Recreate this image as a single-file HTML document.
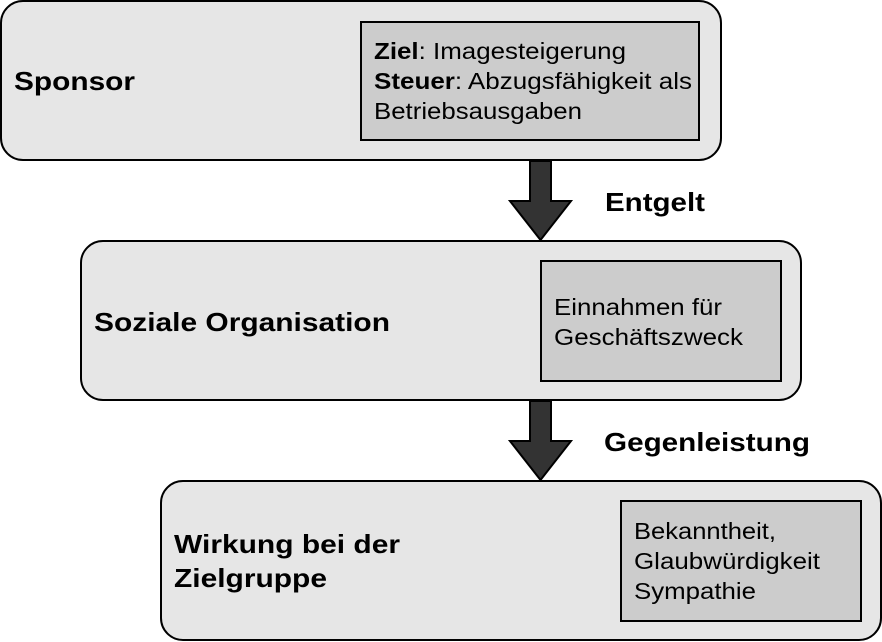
<!DOCTYPE html>
<html><head><meta charset="utf-8"><style>
html,body{margin:0;padding:0;background:#fff;}
svg{display:block;font-family:"Liberation Sans",Arial,sans-serif;}
</style></head><body>
<svg width="882" height="642" viewBox="0 0 882 642" xmlns="http://www.w3.org/2000/svg">
<g stroke="#000" stroke-width="2">
<rect x="1" y="1" width="720" height="159" rx="22" fill="#e6e6e6"/>
<rect x="361" y="22" width="338" height="118" fill="#cccccc"/>
<rect x="81" y="241" width="720" height="159" rx="22" fill="#e6e6e6"/>
<rect x="541" y="261" width="240" height="120" fill="#cccccc"/>
<rect x="161" y="481" width="720" height="159" rx="22" fill="#e6e6e6"/>
<rect x="621" y="501" width="240" height="120" fill="#cccccc"/>
<polygon points="530,161 551,161 551,201 571,201 540.5,240 510,201 530,201" fill="#333"/>
<polygon points="530,401 551,401 551,441 571,441 540.5,480 510,441 530,441" fill="#333"/>
</g>
<g font-size="26" font-weight="bold" fill="#000">
<text x="14" y="90" textLength="121" lengthAdjust="spacingAndGlyphs">Sponsor</text>
<text x="94" y="331" textLength="296" lengthAdjust="spacingAndGlyphs">Soziale Organisation</text>
<text x="174" y="553" textLength="226" lengthAdjust="spacingAndGlyphs">Wirkung bei der</text>
<text x="174" y="587" textLength="153" lengthAdjust="spacingAndGlyphs">Zielgruppe</text>
<text x="605" y="211" textLength="100" lengthAdjust="spacingAndGlyphs">Entgelt</text>
<text x="604" y="451" textLength="206" lengthAdjust="spacingAndGlyphs">Gegenleistung</text>
</g>
<g font-size="23.5" fill="#000">
<text x="374" y="59" textLength="252" lengthAdjust="spacingAndGlyphs"><tspan font-weight="bold">Ziel</tspan>: Imagesteigerung</text>
<text x="374" y="89" textLength="318" lengthAdjust="spacingAndGlyphs"><tspan font-weight="bold">Steuer</tspan>: Abzugsfähigkeit als</text>
<text x="374" y="119" textLength="208" lengthAdjust="spacingAndGlyphs">Betriebsausgaben</text>
<text x="554" y="315" textLength="168" lengthAdjust="spacingAndGlyphs">Einnahmen für</text>
<text x="554" y="345" textLength="189" lengthAdjust="spacingAndGlyphs">Geschäftszweck</text>
<text x="634" y="539" textLength="142" lengthAdjust="spacingAndGlyphs">Bekanntheit,</text>
<text x="634" y="569" textLength="186" lengthAdjust="spacingAndGlyphs">Glaubwürdigkeit</text>
<text x="634" y="599" textLength="122" lengthAdjust="spacingAndGlyphs">Sympathie</text>
</g>
</svg>
</body></html>
